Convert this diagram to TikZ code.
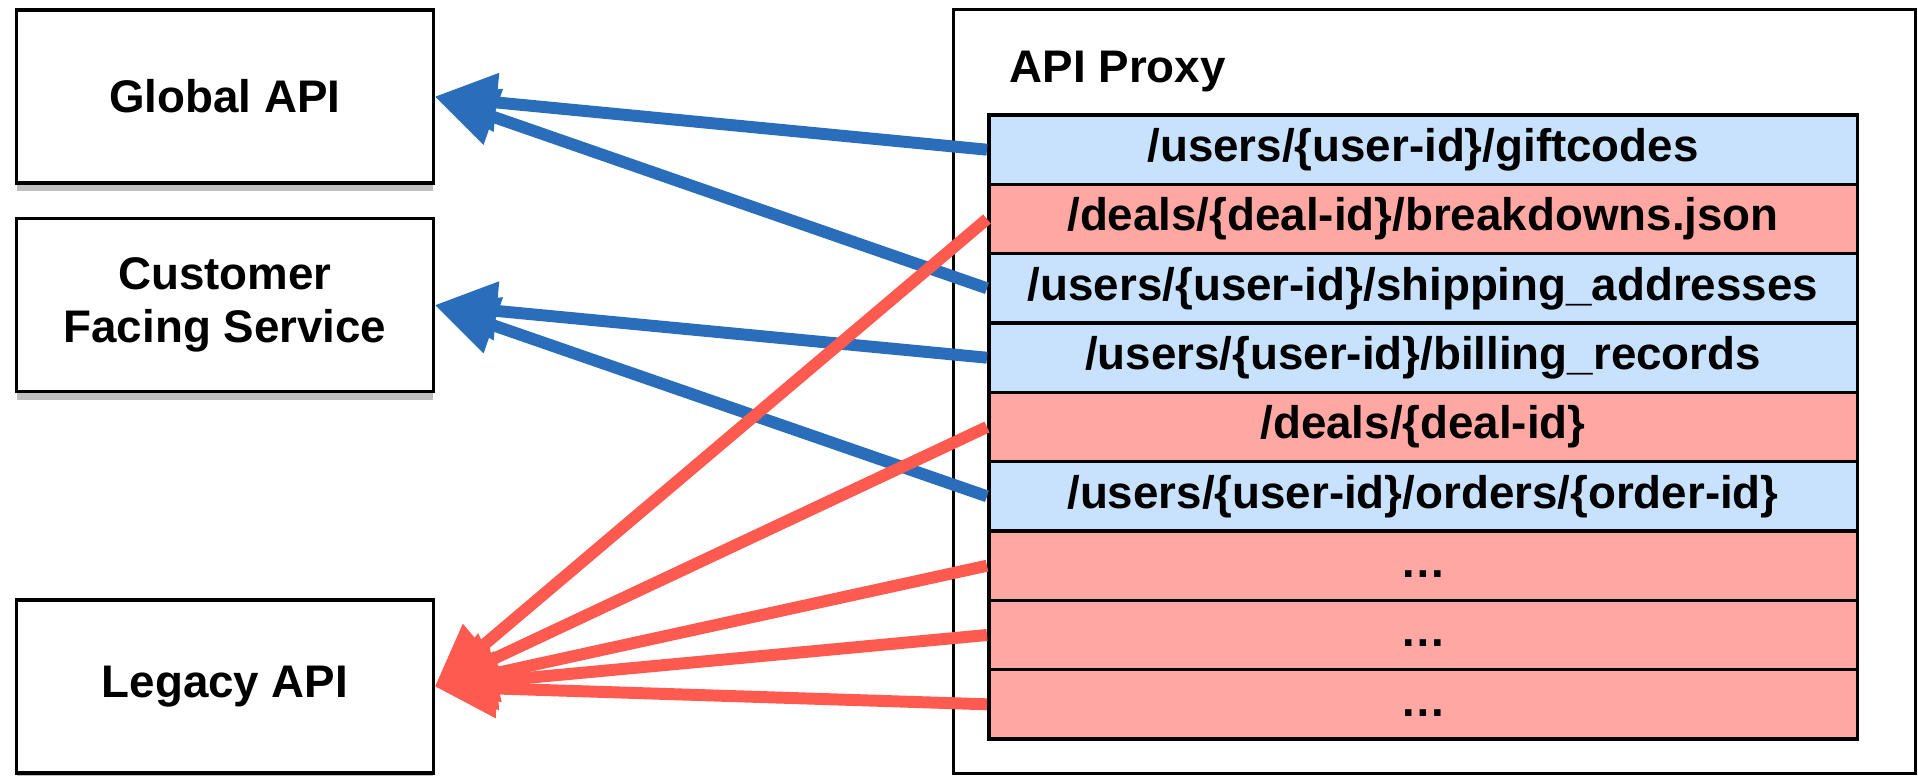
\documentclass[tikz,border=0pt]{standalone}
\usepackage{fontspec}
\setmainfont{Liberation Sans}
\usetikzlibrary{arrows.meta,shadows}

\definecolor{userblue}{HTML}{C8E2FD}
\definecolor{dealred}{HTML}{FFA8A3}
\definecolor{userarrow}{HTML}{2A6EBB}
\definecolor{dealarrow}{HTML}{FF5A50}

\begin{document}
\begin{tikzpicture}[x=0.01cm,y=-0.01cm,
    font=\fontsize{13pt}{15pt}\selectfont\bfseries,
    service/.style={draw,line width=0.9pt,fill=white,align=center,
        minimum width=4.16cm,minimum height=1.73cm,
        drop shadow={shadow xshift=0pt,shadow yshift=-0.08cm,opacity=0.5}},
    route/.style={draw,line width=1pt,inner sep=0pt,
        minimum width=8.68cm,minimum height=0.693cm,
        text height=9.8pt,text depth=3pt},
    userroute/.style={route,fill=userblue},
    dealroute/.style={route,fill=dealred},
    userlink/.style={draw=userarrow,line width=3.4pt,
        -{Triangle[length=0.62cm,width=0.56cm]}},
    deallink/.style={draw=dealarrow,line width=3.4pt,
        -{Triangle[length=0.62cm,width=0.56cm]}}]
    \useasboundingbox (0,0) rectangle (1918,775);

    % services on the left
    \node[service] (global) at (225,96.5) {Global API};
    \node[service] (customer) at (225,305) {Customer\\Facing Service};
    \node[service] (legacy) at (225,686.5) {Legacy API};

    % the proxy and its routes
    \node[draw,line width=0.9pt,minimum width=9.61cm,minimum height=7.63cm] (proxy) at (1434.5,391.5) {};
    \node[anchor=base west,inner sep=0pt] (proxytitle) at (1009,82) {API Proxy};

    \node[userroute] (giftcodes) at (1423,149.7) {/users/\{user-id\}/giftcodes};
    \node[dealroute] (breakdowns) at (1423,219) {/deals/\{deal-id\}/breakdowns.json};
    \node[userroute] (shipping) at (1423,288.3) {/users/\{user-id\}/shipping\_addresses};
    \node[userroute] (billing) at (1423,357.7) {/users/\{user-id\}/billing\_records};
    \node[dealroute] (deal) at (1423,427) {/deals/\{deal-id\}};
    \node[userroute] (orders) at (1423,496.3) {/users/\{user-id\}/orders/\{order-id\}};
    \node[dealroute] (moreA) at (1423,565.7) {…};
    \node[dealroute] (moreB) at (1423,635) {…};
    \node[dealroute] (moreC) at (1423,704.3) {…};

    % routing
    \draw[userlink] (giftcodes.west) -- (global.east);
    \draw[userlink] (shipping.west) -- (global.east);
    \draw[userlink] (billing.west) -- (customer.east);
    \draw[userlink] (orders.west) -- (customer.east);
    \draw[deallink] (breakdowns.west) -- (legacy.east);
    \draw[deallink] (deal.west) -- (legacy.east);
    \draw[deallink] (moreA.west) -- (legacy.east);
    \draw[deallink] (moreB.west) -- (legacy.east);
    \draw[deallink] (moreC.west) -- (legacy.east);
\end{tikzpicture}
\end{document}
